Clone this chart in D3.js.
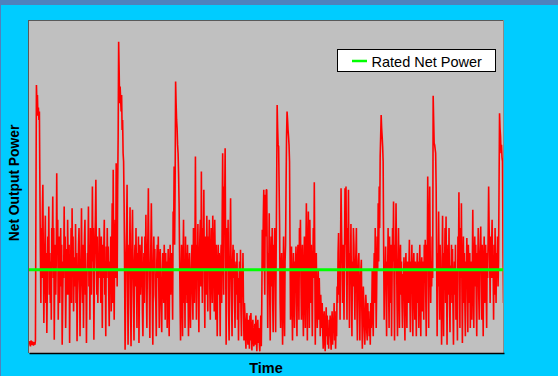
<!DOCTYPE html>
<html><head><meta charset="utf-8">
<script src="https://cdn.jsdelivr.net/npm/d3@7"></script>
<style>html,body{margin:0;padding:0;background:#00CCFF;}svg{display:block;}</style>
</head><body>
<script>
const seriesName = "Rated Net Power";
const ratedPower = 100;
const yDomain = [0, 400];
const netOutput = [
// segment 1
12,14,10,8,15,12,10,14,11,9,13,12,10,15,180,322,
300,310,285,295,280,290,200,120,60,150,90,170,202,110,36,95,
130,165,60,120,24,80,140,100,176,70,120,60,110,40,150,130,
188,90,150,16,100,130,70,110,216,120,160,40,90,140,60,120,
150,80,130,10,60,110,90,176,100,140,30,80,125,70,160,110,
70,130,12,90,100,150,60,174,110,140,50,95,115,80,155,60,
120,14,70,90,130,150,100,20,80,110,174,90,60,130,30,100,
140,160,70,100,12,90,120,110,176,80,130,40,150,100,70,120,
200,110,150,16,90,130,160,208,120,70,140,60,110,90,150,130,
120,60,140,100,30,130,90,125,160,70,110,20,128,90,150,100,
// segment 2
128,70,32,110,90,140,50,120,180,60,220,100,40,130,160,90,
228,150,80,200,260,374,340,300,320,305,290,310,268,280,240,230,
180,100,4,60,120,150,202,90,10,70,130,110,175,60,8,90,
140,172,100,60,15,110,130,80,150,90,30,120,100,140,12,80,
130,70,95,110,140,50,20,90,120,60,140,100,166,80,30,110,
140,198,110,70,18,100,130,180,120,60,10,90,140,100,125,70,
60,20,110,130,90,140,80,30,115,125,70,50,25,100,120,90,
60,130,100,40,120,80,110,30,90,125,60,20,100,130,70,115,
120,90,40,170,140,224,130,200,326,300,280,270,250,240,216,180,
120,60,15,90,130,80,20,110,160,60,100,30,140,70,120,60,
// segment 3
130,80,20,100,120,60,30,90,110,130,70,40,150,100,60,120,
236,120,40,130,90,155,70,25,110,140,160,80,218,110,60,150,
100,196,90,30,140,120,70,165,100,50,140,110,160,80,40,120,
150,90,60,165,130,100,50,160,110,40,130,90,20,100,130,70,
120,80,20,110,130,60,160,240,130,70,200,180,246,120,10,110,
150,100,160,50,15,90,130,186,100,60,20,110,130,90,124,60,
30,100,110,70,120,40,90,15,80,110,60,124,50,20,100,70,
120,60,15,60,45,20,5,35,48,25,10,40,30,5,45,15,
48,25,3,30,40,15,8,25,35,10,45,20,2,30,40,12,
30,12,2,20,45,8,60,148,100,160,196,120,70,190,140,196,
// segment 4
196,110,30,120,90,168,70,15,110,140,80,150,60,25,130,100,
150,80,25,120,200,298,270,250,248,200,150,60,30,100,120,60,
10,90,140,60,20,110,130,200,260,290,280,268,260,250,230,130,
40,100,128,60,15,90,120,70,30,110,100,128,60,20,110,130,
90,40,150,120,160,90,40,110,130,60,20,100,140,70,30,120,
180,90,15,120,170,100,30,160,110,60,130,80,20,100,150,90,
205,110,10,80,120,70,30,55,100,40,90,60,20,70,50,30,
60,25,5,40,50,15,2,35,55,20,45,10,30,5,40,20,
45,20,4,35,50,10,40,25,60,15,50,5,35,20,80,60,
120,144,70,110,40,130,198,150,110,60,130,90,40,120,198,130,
// segment 5
200,110,40,150,120,196,90,30,120,100,155,70,20,110,80,150,
130,80,40,100,120,150,60,15,90,110,120,60,15,80,100,112,
50,5,45,80,60,30,10,40,70,55,25,15,60,30,50,20,
40,10,60,30,50,100,50,20,90,120,60,150,100,30,80,140,
100,180,110,200,150,236,260,286,270,260,248,230,130,40,100,80,
128,70,20,110,90,150,80,30,140,100,60,130,20,90,150,110,
182,90,15,130,100,180,120,60,20,90,150,100,30,110,130,70,
110,60,30,95,80,115,50,15,100,120,70,30,110,90,60,100,
136,70,25,110,90,130,60,20,100,120,80,40,110,70,20,100,
120,60,110,30,90,130,70,20,100,115,50,80,110,40,130,100,
// segment 6
136,70,20,130,100,212,100,30,150,200,120,60,110,80,140,90,
309,280,252,250,245,240,200,110,20,120,80,170,100,40,130,90,
80,10,110,165,70,20,120,100,150,60,164,90,10,100,130,70,
150,60,25,105,90,130,60,125,55,10,90,110,70,130,40,100,
70,15,140,100,193,100,30,150,90,180,80,12,95,140,60,120,
60,20,110,90,138,70,25,130,100,60,120,30,90,110,40,100,
172,90,30,110,140,80,130,60,20,120,100,150,70,40,110,130,
152,100,40,130,90,20,110,140,60,100,130,80,30,120,90,140,
200,150,120,60,140,90,130,160,90,108,40,130,70,150,100,60,
120,90,140,80,110,200,288,270,260,240,250,235,230,120,60,110
];
const xTitle = "Time";
const yTitle = "Net Output Power";

const W = 558, H = 376;
const plot = {x0: 28, x1: 504, y0: 20, y1: 353};

const svg = d3.select("body").append("svg").attr("width", W).attr("height", H);
svg.append("rect").attr("width", W).attr("height", H).attr("fill", "#00CCFF");
svg.append("rect").attr("width", W).attr("height", 5).attr("fill", "#4F81BD");
svg.append("rect").attr("width", 1).attr("height", H).attr("fill", "#4F81BD");

const x = d3.scaleLinear().domain([0, netOutput.length - 1]).range([plot.x0 + 1, plot.x1]);
const y = d3.scaleLinear().domain(yDomain).range([plot.y1, plot.y0]);

svg.append("rect").attr("x", plot.x0).attr("y", plot.y0)
  .attr("width", plot.x1 - plot.x0).attr("height", plot.y1 - plot.y0)
  .attr("fill", "#C0C0C0");

svg.append("clipPath").attr("id", "c").append("rect")
  .attr("x", plot.x0).attr("y", plot.y0).attr("width", plot.x1 - plot.x0).attr("height", plot.y1 - plot.y0);

const line = d3.line().x((d, i) => x(i)).y(d => y(d));
svg.append("path").datum(netOutput).attr("d", line)
  .attr("fill", "none").attr("stroke", "#FF0000").attr("stroke-width", 1.6)
  .attr("stroke-linejoin", "bevel").attr("clip-path", "url(#c)");

svg.append("line").attr("x1", plot.x0).attr("x2", plot.x1)
  .attr("y1", y(ratedPower)).attr("y2", y(ratedPower))
  .attr("stroke", "#00FF00").attr("stroke-width", 3);

// borders
svg.append("line").attr("x1", plot.x0).attr("x2", plot.x1).attr("y1", plot.y0 + 0.5).attr("y2", plot.y0 + 0.5).attr("stroke", "#5A5A5A");
svg.append("line").attr("x1", plot.x0 + 0.5).attr("x2", plot.x0 + 0.5).attr("y1", plot.y0).attr("y2", plot.y1).attr("stroke", "#5A5A5A");
svg.append("line").attr("x1", plot.x1 - 0.5).attr("x2", plot.x1 - 0.5).attr("y1", plot.y0).attr("y2", plot.y1).attr("stroke", "#8A8A8A");
svg.append("g").attr("transform", `translate(0,${plot.y1})`)
  .call(d3.axisBottom(x).tickValues([]).tickSizeOuter(0))
  .call(g => g.select(".domain").attr("stroke", "#000").attr("stroke-width", 1.5));

// legend
const lg = svg.append("g");
lg.append("rect").attr("x", 337.5).attr("y", 49.5).attr("width", 158).attr("height", 22)
  .attr("fill", "#fff").attr("stroke", "#000");
lg.append("line").attr("x1", 352).attr("x2", 367).attr("y1", 61).attr("y2", 61)
  .attr("stroke", "#00FF00").attr("stroke-width", 2.5);
lg.append("text").attr("x", 371.5).attr("y", 66.5).text(seriesName)
  .attr("font-family", "Liberation Sans, Arial, sans-serif").attr("font-size", 14.5).attr("fill", "#000");

svg.append("text").attr("x", 266).attr("y", 373).attr("text-anchor", "middle").text(xTitle)
  .attr("font-family", "Liberation Sans, Arial, sans-serif").attr("font-weight", "bold").attr("font-size", 14.5);
svg.append("text").attr("transform", "translate(19,183) rotate(-90)").attr("text-anchor", "middle").text(yTitle)
  .attr("font-family", "Liberation Sans, Arial, sans-serif").attr("font-weight", "bold").attr("font-size", 13.8);
</script>
</body></html>
